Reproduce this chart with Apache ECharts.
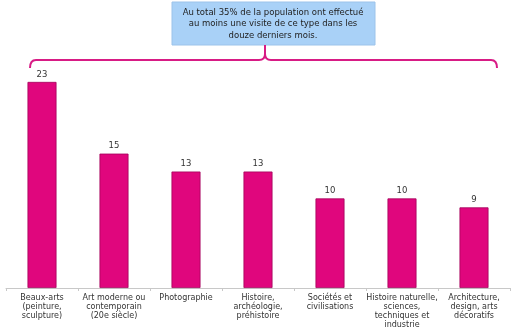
<!DOCTYPE html>
<html>
<head>
<meta charset="utf-8">
<script src="https://cdn.jsdelivr.net/npm/echarts@6/dist/echarts.min.js"></script>
<style>
  html, body { margin: 0; padding: 0; background: #fff; }
  #main { width: 525px; height: 334px; }
</style>
</head>
<body>
<div id="main"></div>
<script>
// catégories et valeurs (%)
var categories = [
  'Beaux-arts\n(peinture,\nsculpture)',
  'Art moderne ou\ncontemporain\n(20e siècle)',
  'Photographie',
  'Histoire,\narchéologie,\npréhistoire',
  'Sociétés et\ncivilisations',
  'Histoire naturelle,\nsciences,\ntechniques et\nindustrie',
  'Architecture,\ndesign, arts\ndécoratifs'
];
var values = [23, 15, 13, 13, 10, 10, 9];
var calloutText = 'Au total 35% de la population ont effectué\nau moins une visite de ce type dans les\ndouze derniers mois.';

var myChart = echarts.init(document.getElementById('main'));
var pink = '#e0067d';
var brace = { stroke: '#d81b85', lineWidth: 2, fill: 'none' };

var option = {
  animation: false,
  textStyle: { fontFamily: 'DejaVu Sans' },
  grid: { left: 6, right: 15, top: 64, bottom: 46 },
  xAxis: {
    type: 'category',
    data: categories,
    axisLine: { lineStyle: { color: '#c8c8c8', width: 1 } },
    axisTick: { show: true, length: 3, lineStyle: { color: '#c8c8c8' } },
    axisLabel: {
      interval: 0,
      color: '#333',
      fontSize: 8,
      lineHeight: 9,
      margin: 5
    }
  },
  yAxis: {
    type: 'value',
    min: 0,
    max: 25,
    show: false
  },
  series: [{
    type: 'bar',
    data: values,
    barWidth: 29,
    itemStyle: { color: pink, borderColor: '#a3005a', borderWidth: 0.8 },
    label: {
      show: true,
      position: 'top',
      distance: 3,
      color: '#333',
      fontSize: 8.5
    }
  }],
  graphic: [
    {
      type: 'rect',
      shape: { x: 172, y: 2, width: 203, height: 43 },
      style: { fill: '#a9d1f7', stroke: '#9cc3ea', lineWidth: 1 }
    },
    {
      type: 'text',
      x: 273,
      y: 7,
      style: {
        text: calloutText,
        fill: '#222',
        font: '8.5px DejaVu Sans',
        align: 'center',
        lineHeight: 11.5
      }
    },
    // accolade
    { type: 'bezierCurve', shape: { x1: 30, y1: 68, cpx1: 30, cpy1: 60, x2: 36, y2: 60 }, style: brace },
    { type: 'line', shape: { x1: 36, y1: 60, x2: 259, y2: 60 }, style: brace },
    { type: 'bezierCurve', shape: { x1: 259, y1: 60, cpx1: 265, cpy1: 60, x2: 265, y2: 54 }, style: brace },
    { type: 'bezierCurve', shape: { x1: 265, y1: 54, cpx1: 265, cpy1: 60, x2: 271, y2: 60 }, style: brace },
    { type: 'line', shape: { x1: 265, y1: 45, x2: 265, y2: 54 }, style: brace },
    { type: 'line', shape: { x1: 271, y1: 60, x2: 491, y2: 60 }, style: brace },
    { type: 'bezierCurve', shape: { x1: 491, y1: 60, cpx1: 497, cpy1: 60, x2: 497, y2: 68 }, style: brace }
  ]
};

myChart.setOption(option);
</script>
</body>
</html>
